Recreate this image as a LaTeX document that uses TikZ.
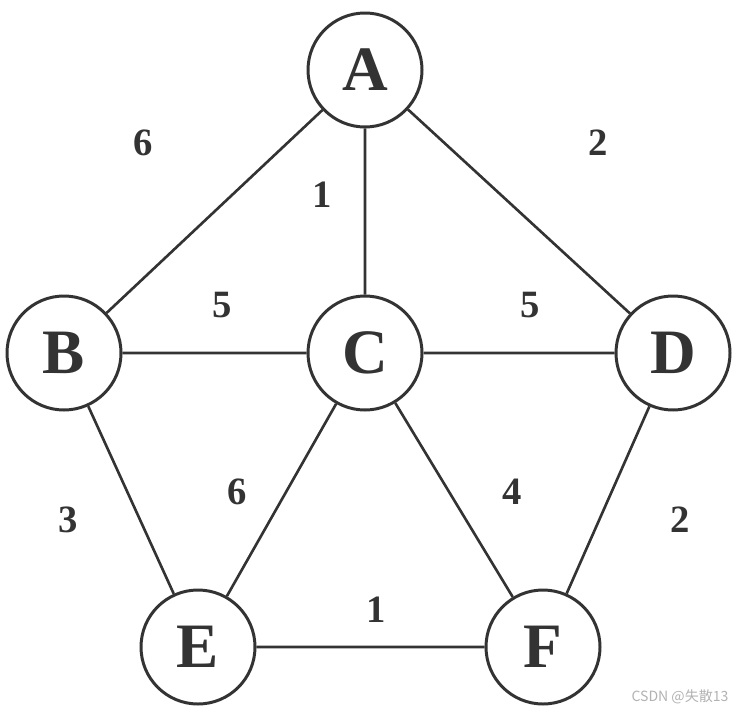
\documentclass[tikz,border=0pt]{standalone}
\usepackage{fontspec}
\setmainfont{Liberation Serif}
\newfontfamily\cjkfont{Noto Sans CJK SC}
\usepackage{tikz}
\usepackage{xcolor}
\definecolor{ink}{HTML}{333333}

\begin{document}
\begin{tikzpicture}[
    vertex/.style={circle, draw=ink, line width=1.7pt, minimum size=2.28cm, inner sep=0pt,
                   font=\fontsize{36}{40}\selectfont\bfseries, text=ink},
    weight/.style={font=\fontsize{22}{24}\selectfont\bfseries, text=ink}]
    \useasboundingbox (0,0) rectangle (14.7,14.22);
    \node[vertex] (A) at (7.30,12.82) {A};
    \node[vertex] (B) at (1.28,7.16) {B};
    \node[vertex] (C) at (7.30,7.16) {C};
    \node[vertex] (D) at (13.46,7.16) {D};
    \node[vertex] (E) at (3.96,1.28) {E};
    \node[vertex] (F) at (10.86,1.28) {F};
    \draw[ink, line width=1.5pt] (A) -- (B) (A) -- (C) (A) -- (D)
        (B) -- (C) (C) -- (D) (B) -- (E) (C) -- (E) (C) -- (F)
        (D) -- (F) (E) -- (F);
    \node[weight] at (2.86,11.36) {6};
    \node[weight] at (11.96,11.36) {2};
    \node[weight] at (6.44,10.32) {1};
    \node[weight] at (4.44,8.12) {5};
    \node[weight] at (10.60,8.12) {5};
    \node[weight] at (1.36,3.82) {3};
    \node[weight] at (4.74,4.38) {6};
    \node[weight] at (10.24,4.38) {4};
    \node[weight] at (13.60,3.82) {2};
    \node[weight] at (7.52,2.02) {1};
    \node[gray!60, font=\cjkfont\fontsize{8}{9}\selectfont] at (13.6,0.28) {CSDN @失散13};
\end{tikzpicture}
\end{document}
